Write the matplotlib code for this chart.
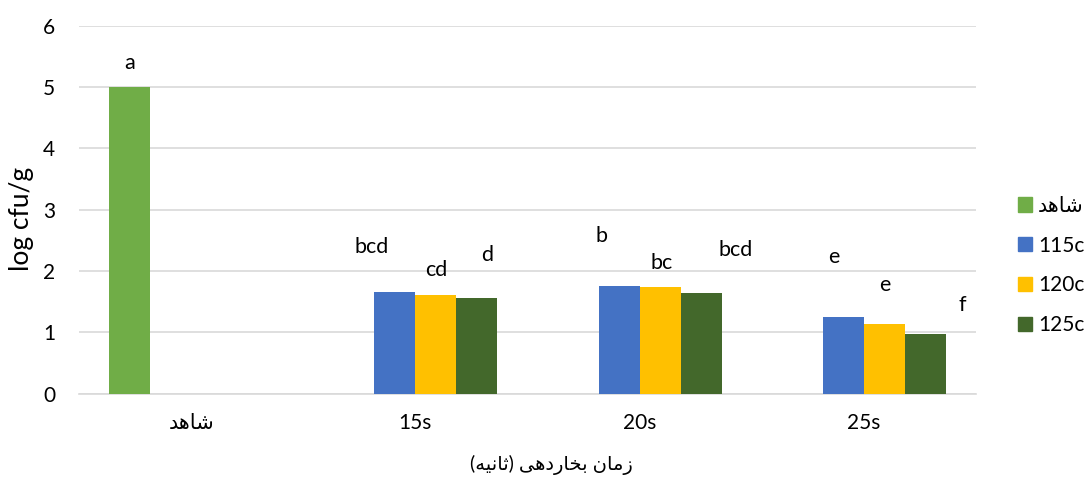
import matplotlib
matplotlib.use("Agg")
import matplotlib.pyplot as plt
from matplotlib.patches import Patch
import numpy as np

# Arabic text is pre-shaped (presentation forms, visual order) since matplotlib does no shaping
CONTROL = "\uFEAA\uFEEB\uFE8E\uFEB7"  # شاهد
XLABEL = ("(\uFEEA\uFEF4\uFEE7\uFE8E\uFE9B) "
          "\uFEF0\uFEEB\uFEA9\uFEAD\uFE8E\uFEA8\uFE91 "
          "\uFEE5\uFE8E\uFEE3\uFEAF")  # زمان بخاردهی (ثانیه)

categories = [CONTROL, "15s", "20s", "25s"]
series_names = [CONTROL, "115c", "120c", "125c"]
control = [5.0, np.nan, np.nan, np.nan]
t115 = [np.nan, 1.66, 1.76, 1.24]
t120 = [np.nan, 1.60, 1.74, 1.13]
t125 = [np.nan, 1.55, 1.64, 0.97]
letters = [
    ["a", "", "", ""],
    ["", "bcd", "b", "e"],
    ["", "cd", "bc", "e"],
    ["", "d", "bcd", "f"],
]

colors = ["#70AD47", "#4472C4", "#FFC000", "#43682B"]
# hand-moved label offsets (pixels from bar top centre), per series/category
label_offsets = [
    [(0, 24), None, None, None],
    [None, (-23, 45), (-18, 50), (-10, 60)],
    [None, (0, 25), (1, 24), (0, 39)],
    [None, (10, 43), (34, 43), (37, 29)],
]

FONT = ["Lato", "DejaVu Sans"]
plt.rcParams["font.family"] = FONT

fig = plt.figure(figsize=(10.85, 4.9), dpi=100)
ax = fig.add_axes([79 / 1085, 1 - 393.5 / 490, 897 / 1085, 368 / 490])

x = np.arange(len(categories))
width = 0.183
data = [control, t115, t120, t125]
for i, (vals, col) in enumerate(zip(data, colors)):
    pos = x + (i - 1.5) * width
    ax.bar(pos, vals, width=width, color=col, zorder=3)
    for j, v in enumerate(vals):
        if letters[i][j] and not np.isnan(v):
            dx, dy = label_offsets[i][j]
            ax.annotate(letters[i][j], (pos[j], v), xytext=(dx, dy),
                        textcoords="offset pixels", ha="center", va="center",
                        fontsize=15.5, color="black")

ax.set_xlim(-0.5, len(categories) - 0.5)
ax.set_ylim(0, 6)
ax.set_yticks(range(0, 7))
ax.set_xticks(x)
ax.set_xticklabels(categories)
ax.tick_params(axis="both", length=0, labelsize=15, colors="black")
ax.tick_params(axis="y", pad=17)
ax.tick_params(axis="x", pad=14)
ax.grid(axis="y", color="#D9D9D9", linewidth=1.2, zorder=0)
for side in ["top", "right", "left"]:
    ax.spines[side].set_visible(False)
ax.spines["bottom"].set_color("#D9D9D9")
ax.spines["bottom"].set_linewidth(1.2)
ax.set_ylabel("log cfu/g", fontsize=19, va="center", ha="center")
ax.yaxis.set_label_coords((22 - 79) / 897, (393.5 - 219) / 368)

fig.text(551 / 1085, 1 - 465 / 490, XLABEL, ha="center", va="center",
         fontsize=14, family=FONT)

handles = [Patch(color=c) for c in colors]
fig.legend(handles, series_names, loc="center left",
           bbox_to_anchor=(1018 / 1085, 1 - 265.5 / 490),
           frameon=False, fontsize=15, handlelength=0.67, handleheight=0.67,
           handletextpad=0.3, labelspacing=0.95, borderpad=0, borderaxespad=0)

fig.savefig("out.png", dpi=100)
plt.close(fig)
